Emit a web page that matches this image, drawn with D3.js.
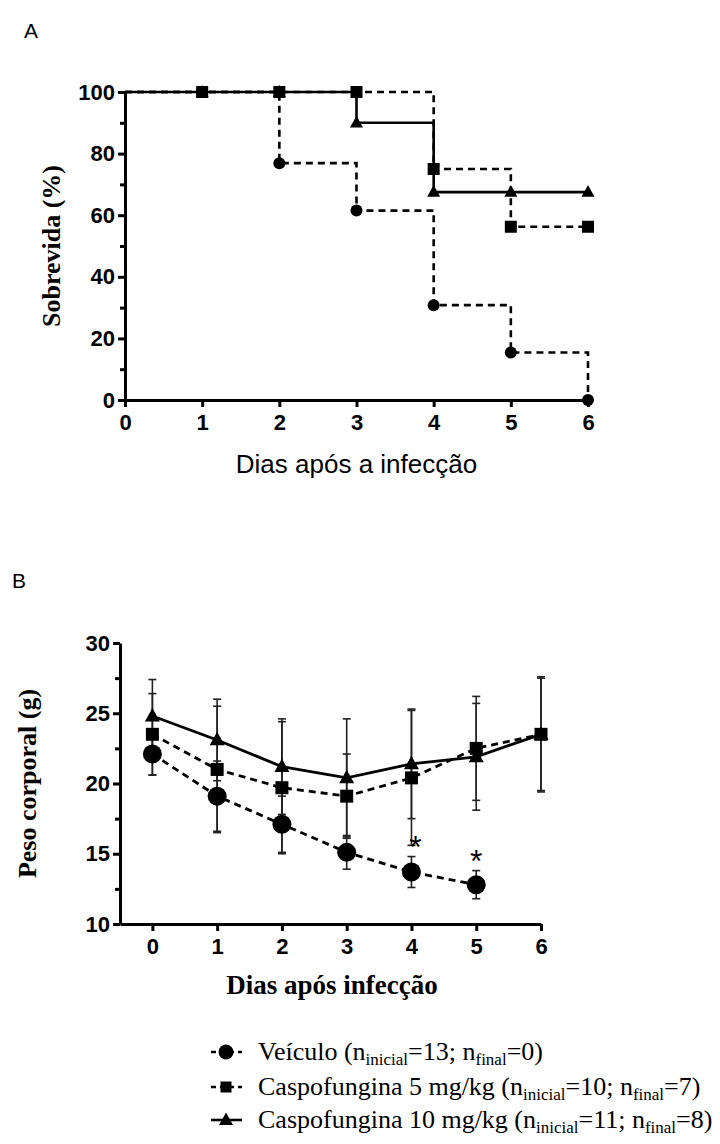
<!DOCTYPE html>
<html>
<head>
<meta charset="utf-8">
<script src="https://cdn.jsdelivr.net/npm/d3@7"></script>
<style>
  body { margin: 0; background: #fff; }
  svg { display: block; }
  .tick text { font-family: "Liberation Sans", Arial, sans-serif; font-weight: bold; font-size: 22px; fill: #000; }
</style>
</head>
<body>
<div id="chart"></div>
<script>
// Panel A: survival (%)
var days = [0, 1, 2, 3, 4, 5, 6];
var survVeiculo = [100, 100, 76.9, 61.5, 30.8, 15.4, 0];
var survCaspo5 = [100, 100, 100, 100, 75, 56.25, 56.25];
var survCaspo10 = [100, 100, 100, 90, 67.5, 67.5, 67.5];

// Panel B: body weight (g), mean and SD
var wVeiculo = [22.1, 19.1, 17.1, 15.1, 13.7, 12.8];
var wVeiculoSD = [1.5, 2.5, 2.0, 1.2, 1.1, 1.0];
var wCaspo5 = [23.5, 21.0, 19.7, 19.1, 20.4, 22.5, 23.5];
var wCaspo5SD = [2.9, 4.5, 4.7, 3.0, 4.8, 3.7, 4.1];
var wCaspo10 = [24.8, 23.1, 21.2, 20.4, 21.4, 21.9, 23.5];
var wCaspo10SD = [2.6, 2.9, 3.4, 4.2, 3.9, 3.8, 4.0];
var signifDays = [4, 5];

var survTicks = [0, 20, 40, 60, 80, 100];
var survMinor = [10, 30, 50, 70, 90];
var weightTicks = [10, 15, 20, 25, 30];
var weightMinor = [12.5, 17.5, 22.5, 27.5];

var W = 720, H = 1144;
var svg = d3.select("#chart").append("svg").attr("width", W).attr("height", H);

var sans = "'Liberation Sans', Arial, sans-serif";
var serif = "'Liberation Serif', 'Times New Roman', serif";
var fmt = d3.format("d");

// marker drawing helper
function marker(g, shape, x, y, size) {
	if (shape === "circle") {
		g.append("circle").attr("cx", x).attr("cy", y).attr("r", size / 2).attr("fill", "#000");
	} else if (shape === "square") {
		g.append("rect").attr("x", x - size / 2).attr("y", y - size / 2)
			.attr("width", size).attr("height", size).attr("fill", "#000");
	} else {
		var h = size * 0.9;
		g.append("path")
			.attr("d", "M" + x + "," + (y - h * 0.6) + "L" + (x + size / 2) + "," + (y + h * 0.4) + "L" + (x - size / 2) + "," + (y + h * 0.4) + "Z")
			.attr("fill", "#000");
	}
}

function styleAxis(g) {
	g.select(".domain").attr("stroke", "#000").attr("stroke-width", 3);
	g.selectAll(".tick line").attr("stroke", "#000").attr("stroke-width", 3);
}

// ---------- Panel A ----------
svg.append("text").attr("x", 24).attr("y", 38).text("A")
	.style("font-family", sans).style("font-size", "21px");

var xA = d3.scaleLinear().domain([0, 6]).range([125, 588]);
var yA = d3.scaleLinear().domain([0, 100]).range([400, 92]);

var gA = svg.append("g");

gA.append("g").attr("transform", "translate(0," + yA(0) + ")")
	.call(d3.axisBottom(xA).tickValues(days).tickFormat(fmt).tickSize(7).tickPadding(7).tickSizeOuter(0))
	.call(styleAxis);
gA.append("g").attr("transform", "translate(" + xA(0) + ",0)")
	.call(d3.axisLeft(yA).tickValues(survTicks).tickFormat(fmt).tickSize(7).tickPadding(3).tickSizeOuter(0))
	.call(styleAxis);
gA.append("g").attr("transform", "translate(" + xA(0) + ",0)")
	.call(d3.axisLeft(yA).tickValues(survMinor).tickSize(5).tickFormat("").tickSizeOuter(0))
	.call(styleAxis)
	.select(".domain").remove();

gA.append("text")
	.attr("transform", "translate(60," + yA(50) + ") rotate(-90)")
	.attr("text-anchor", "middle")
	.style("font-family", serif).style("font-weight", "bold").style("font-size", "26px")
	.text("Sobrevida (%)");
gA.append("text")
	.attr("x", xA(3)).attr("y", 473)
	.attr("text-anchor", "middle")
	.style("font-family", sans).style("font-size", "26px")
	.text("Dias após a infecção");

var survSeries = [
	{ vals: survVeiculo, shape: "circle", dash: "7,5", size: 12 },
	{ vals: survCaspo10, shape: "triangle", dash: null, size: 13 },
	{ vals: survCaspo5, shape: "square", dash: "7,5", size: 12 }
];

var stepLine = d3.line()
	.x(function(d, i) { return xA(days[i]); })
	.y(function(d) { return yA(d); })
	.curve(d3.curveStepAfter);

survSeries.forEach(function(s) {
	gA.append("path")
		.attr("d", stepLine(s.vals))
		.attr("fill", "none")
		.attr("stroke", "#000")
		.attr("stroke-width", 2.6)
		.attr("stroke-dasharray", s.dash);
});
survSeries.forEach(function(s) {
	var mg = gA.append("g");
	s.vals.forEach(function(v, i) {
		if (i === 0) return;
		marker(mg, s.shape, xA(days[i]), yA(v), s.size);
	});
});

// ---------- Panel B ----------
svg.append("text").attr("x", 12).attr("y", 588).text("B")
	.style("font-family", sans).style("font-size", "21px");

var xB = d3.scaleLinear().domain([-0.5, 6]).range([120, 541]);
var yB = d3.scaleLinear().domain([10, 30]).range([924, 643]);

var gB = svg.append("g");

gB.append("g").attr("transform", "translate(0," + yB(10) + ")")
	.call(d3.axisBottom(xB).tickValues(days).tickFormat(fmt).tickSize(7).tickPadding(7).tickSizeOuter(0))
	.call(styleAxis);
gB.append("g").attr("transform", "translate(" + xB(-0.5) + ",0)")
	.call(d3.axisLeft(yB).tickValues(weightTicks).tickFormat(fmt).tickSize(7).tickPadding(3).tickSizeOuter(0))
	.call(styleAxis);
gB.append("g").attr("transform", "translate(" + xB(-0.5) + ",0)")
	.call(d3.axisLeft(yB).tickValues(weightMinor).tickSize(5).tickFormat("").tickSizeOuter(0))
	.call(styleAxis)
	.select(".domain").remove();

gB.append("text")
	.attr("transform", "translate(36," + yB(20) + ") rotate(-90)")
	.attr("text-anchor", "middle")
	.style("font-family", serif).style("font-weight", "bold").style("font-size", "26px")
	.text("Peso corporal (g)");
gB.append("text")
	.attr("x", 332).attr("y", 994)
	.attr("text-anchor", "middle")
	.style("font-family", serif).style("font-weight", "bold").style("font-size", "27px")
	.text("Dias após infecção");

var weightSeries = [
	{ vals: wVeiculo, sd: wVeiculoSD, shape: "circle", dash: "7,5", size: 19 },
	{ vals: wCaspo5, sd: wCaspo5SD, shape: "square", dash: "7,5", size: 13 },
	{ vals: wCaspo10, sd: wCaspo10SD, shape: "triangle", dash: null, size: 15 }
];

var eg = gB.append("g");
weightSeries.forEach(function(s) {
	s.vals.forEach(function(v, i) {
		var x = xB(days[i]), y0 = yB(v - s.sd[i]), y1 = yB(v + s.sd[i]);
		eg.append("line").attr("x1", x).attr("x2", x).attr("y1", y0).attr("y2", y1)
			.attr("stroke", "#222").attr("stroke-width", 1.6);
		[y0, y1].forEach(function(yy) {
			eg.append("line").attr("x1", x - 4).attr("x2", x + 4).attr("y1", yy).attr("y2", yy)
				.attr("stroke", "#222").attr("stroke-width", 1.6);
		});
	});
});

var wLine = d3.line()
	.x(function(d, i) { return xB(days[i]); })
	.y(function(d) { return yB(d); });

weightSeries.forEach(function(s) {
	gB.append("path")
		.attr("d", wLine(s.vals))
		.attr("fill", "none")
		.attr("stroke", "#000")
		.attr("stroke-width", 2.8)
		.attr("stroke-dasharray", s.dash);
});
weightSeries.forEach(function(s) {
	var mg = gB.append("g");
	s.vals.forEach(function(v, i) {
		marker(mg, s.shape, xB(days[i]), yB(v), s.size);
	});
});

signifDays.forEach(function(d) {
	var top = wVeiculo[d] + wVeiculoSD[d];
	gB.append("text")
		.attr("x", xB(d) + (d === 4 ? 4 : 0)).attr("y", yB(top) + 1)
		.attr("text-anchor", "middle")
		.style("font-family", sans).style("font-size", "32px")
		.text("*");
});

// ---------- Legend ----------
var legendItems = [
	{ name: "Veículo", ni: "13", nf: "0", shape: "circle", dash: "5,4", size: 15 },
	{ name: "Caspofungina 5 mg/kg", ni: "10", nf: "7", shape: "square", dash: "5,4", size: 11 },
	{ name: "Caspofungina 10 mg/kg", ni: "11", nf: "8", shape: "triangle", dash: null, size: 14 }
];
var legendRows = [1052, 1087, 1120];

var lg = svg.append("g");
legendItems.forEach(function(it, i) {
	var cy = legendRows[i];
	lg.append("line").attr("x1", 211).attr("x2", 242).attr("y1", cy).attr("y2", cy)
		.attr("stroke", "#000").attr("stroke-width", 2.6).attr("stroke-dasharray", it.dash);
	marker(lg, it.shape, 226, cy, it.size);
	var t = lg.append("text").attr("x", 258).attr("y", cy + 8)
		.style("font-family", serif).style("font-size", "26px");
	t.append("tspan").text(it.name + " (n");
	t.append("tspan").attr("dy", 5).style("font-size", "17px").text("inicial");
	t.append("tspan").attr("dy", -5).text("=" + it.ni + "; n");
	t.append("tspan").attr("dy", 5).style("font-size", "17px").text("final");
	t.append("tspan").attr("dy", -5).text("=" + it.nf + ")");
});
</script>
</body>
</html>
